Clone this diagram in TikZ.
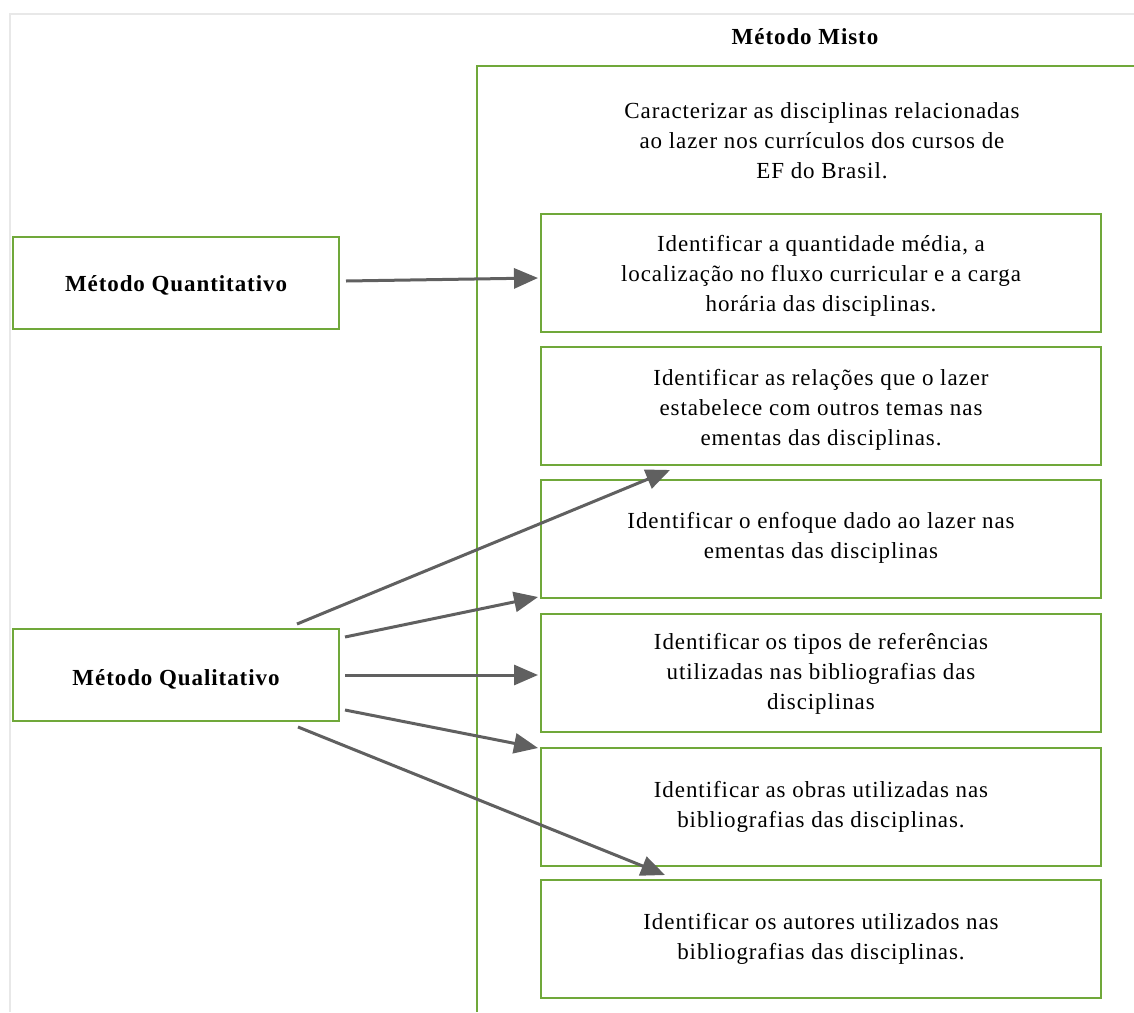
\documentclass[tikz,border=0pt]{standalone}
\usepackage{fontspec}
\setmainfont[LetterSpace=4]{Liberation Serif}
\usetikzlibrary{arrows.meta}
\definecolor{boxgreen}{RGB}{112,168,58}
\definecolor{arrowgray}{RGB}{96,96,96}
\definecolor{framegray}{RGB}{232,232,232}
\begin{document}
\begin{tikzpicture}[x=1pt,y=-1pt,
  txt/.style={font=\fontsize{23}{30}\selectfont, align=center},
  btxt/.style={font=\fontsize{23}{30}\selectfont\bfseries, align=center},
  goal/.style={draw=boxgreen, line width=2pt, minimum width=560pt, minimum height=118pt, anchor=north west, inner sep=0pt},
  method/.style={draw=boxgreen, line width=2pt, minimum width=326pt, minimum height=92pt, anchor=north west, inner sep=0pt},
  conn/.style={draw=arrowgray, line width=3pt, -{Triangle[length=24pt,width=20pt]}}]
\useasboundingbox (0,0) rectangle (1134,1012);
\fill[white] (0,0) rectangle (1134,1012);
% outer frame
\draw[framegray, line width=1.5pt] (10,1012) -- (10,14) -- (1134,14);
% mixed-method area
\draw[boxgreen, line width=2pt] (477,1012) -- (477,66) -- (1134,66);
\node[btxt] (misto) at (805,37) {Método Misto};
\node[txt] (geral) at (822,141) {Caracterizar as disciplinas relacionadas\\ao lazer nos currículos dos cursos de\\EF do Brasil.};

% methods
\node[method] (quant) at (12,236) {};
\node[btxt] at ([yshift=-2pt]quant.center) {Método Quantitativo};
\node[method] (qual) at (12,628) {};
\node[btxt] at ([yshift=-4pt]qual.center) {Método Qualitativo};

% specific objectives
\node[goal] (g1) at (540,213) {};
\node[txt] at ([yshift=-3pt]g1.center) {Identificar a quantidade média, a\\localização no fluxo curricular e a carga\\horária das disciplinas.};
\node[goal] (g2) at (540,346) {};
\node[txt] at ([yshift=-4pt]g2.center) {Identificar as relações que o lazer\\estabelece com outros temas nas\\ementas das disciplinas.};
\node[goal] (g3) at (540,479) {};
\node[txt] at ([yshift=1pt]g3.center) {Identificar o enfoque dado ao lazer nas\\ementas das disciplinas};
\node[goal] (g4) at (540,613) {};
\node[txt] at ([yshift=-1pt]g4.center) {Identificar os tipos de referências\\utilizadas nas bibliografias das\\disciplinas};
\node[goal] (g5) at (540,747) {};
\node[txt] at (g5.center) {Identificar as obras utilizadas nas\\bibliografias das disciplinas.};
\node[goal] (g6) at (540,879) {};
\node[txt] at (g6.center) {Identificar os autores utilizados nas\\bibliografias das disciplinas.};

% connectors
\coordinate (q0) at (346,281);
\draw[conn] (q0) -- (538,278);
\coordinate (a1) at (297,624);
\coordinate (a2) at (345,637);
\coordinate (a3) at (345,675);
\coordinate (a4) at (345,710);
\coordinate (a5) at (298,727);
\draw[conn] (a1) -- (670,470);
\draw[conn] (a2) -- (538,597);
\draw[conn] (a3) -- (538,675);
\draw[conn] (a4) -- (538,748);
\draw[conn] (a5) -- (665,875);
\end{tikzpicture}
\end{document}
